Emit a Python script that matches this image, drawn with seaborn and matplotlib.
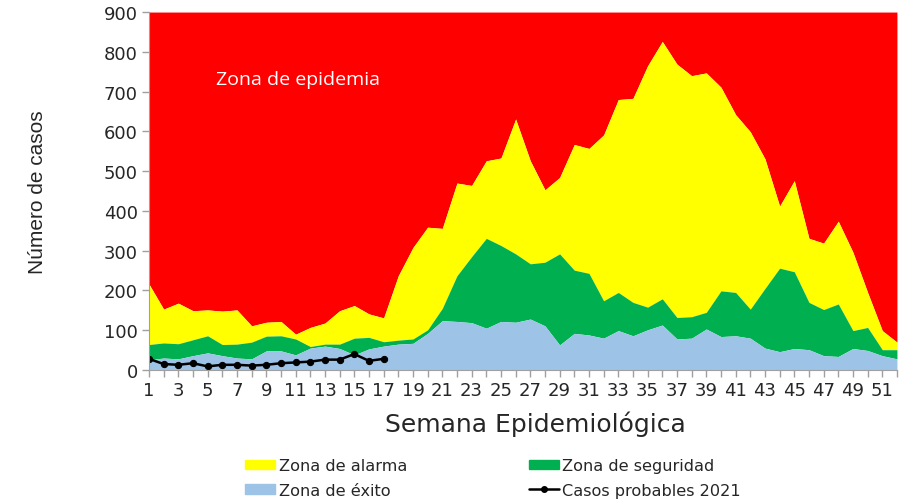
import matplotlib
matplotlib.use("Agg")
import matplotlib.pyplot as plt
import seaborn as sns
import numpy as np
import pandas as pd
from matplotlib.patches import Patch
from matplotlib.lines import Line2D

# semanas epidemiologicas
semanas = list(range(1, 53))

# limite superior de cada zona (corredor endemico)
alarma = [216, 153, 168, 149, 151, 148, 151, 111, 120, 122, 90, 107, 118, 149, 162, 141, 131,
          237, 308, 359, 356, 470, 464, 526, 533, 631, 526, 453, 484, 567, 557, 591, 680, 683,
          765, 826, 769, 740, 747, 711, 642, 599, 531, 412, 476, 331, 319, 374, 296, 195, 99, 70]
seguridad = [64, 68, 66, 76, 86, 64, 65, 70, 85, 86, 78, 59, 65, 65, 80, 82, 71,
             75, 78, 101, 155, 237, 285, 331, 313, 292, 267, 271, 292, 251, 243, 174, 195, 170,
             158, 179, 132, 134, 145, 199, 195, 153, 205, 256, 247, 170, 152, 166, 99, 107, 51, 51]
exito = [26, 30, 28, 36, 43, 36, 30, 28, 48, 48, 38, 55, 60, 54, 38, 53, 60,
         65, 67, 92, 124, 122, 119, 105, 122, 120, 128, 111, 63, 92, 88, 80, 99, 86,
         101, 113, 78, 80, 103, 84, 86, 80, 55, 46, 54, 51, 36, 34, 54, 49, 36, 28]

# casos probables 2021 (semanas 1-17)
semanas_2021 = list(range(1, 18))
casos_2021 = [28, 15, 13, 17, 9, 13, 13, 11, 13, 17, 19, 21, 26, 26, 40, 23, 28]

tope = 900

df = pd.DataFrame({'semana': semanas, 'alarma': alarma, 'seguridad': seguridad, 'exito': exito})
df21 = pd.DataFrame({'semana': semanas_2021, 'casos': casos_2021})

sns.set_style("white")
plt.rcParams['font.family'] = ['DejaVu Sans']

c_rojo = '#FF0000'
c_amarillo = '#FFFF00'
c_verde = '#00B050'
c_azul = '#9DC3E6'

fig = plt.figure(figsize=(9.05, 5.02), dpi=100)
ax = fig.add_axes([0.1646, 0.261, 0.8265, 0.713])

# zonas apiladas
ax.fill_between(df['semana'], df['alarma'], tope, color=c_rojo, lw=0)
ax.fill_between(df['semana'], df['seguridad'], df['alarma'], color=c_amarillo, lw=0)
ax.fill_between(df['semana'], df['exito'], df['seguridad'], color=c_verde, lw=0)
ax.fill_between(df['semana'], 0, df['exito'], color=c_azul, lw=0)

sns.lineplot(data=df21, x='semana', y='casos', ax=ax, color='black', lw=1.8,
             marker='o', markersize=4.5, markeredgecolor='black')

ax.text(5.6, 731, 'Zona de epidemia', color='white', fontsize=14, va='center', ha='left',
        family=['Open Sans', 'DejaVu Sans'])

ax.set_xlim(1, 52)
ax.set_ylim(0, tope)
ax.set_yticks(range(0, 901, 100))
ax.set_xticks(semanas)
ax.set_xticklabels([str(s) if s % 2 == 1 else '' for s in semanas])
ax.tick_params(axis='both', labelsize=13, length=5, width=1, color='#A0A0A0',
               direction='out', bottom=True, left=True, pad=3)

for s in ['top', 'right']:
    ax.spines[s].set_visible(False)
for s in ['left', 'bottom']:
    ax.spines[s].set_color('#A0A0A0')

ax.set_ylabel('Número de casos', fontsize=15, family=['Liberation Sans', 'DejaVu Sans'])
ax.yaxis.set_label_coords(-0.136, 0.5)
ax.set_xlabel('Semana Epidemiológica', fontsize=18)
ax.xaxis.set_label_coords(0.517, -0.112)

handles = [Patch(color=c_amarillo), Patch(color=c_azul), Patch(color=c_verde),
           Line2D([0], [0], color='black', lw=1.8, marker='o', markersize=4)]
labels = ['Zona de alarma', 'Zona de éxito', 'Zona de seguridad', 'Casos probables 2021']
fig.legend(handles, labels, ncol=2, loc='center', bbox_to_anchor=(0.545, 0.046), frameon=False,
           fontsize=11.6, handlelength=1.85, handleheight=0.55, handletextpad=0.2,
           columnspacing=7.6, labelspacing=0.6)

fig.savefig('out.png', dpi=100)
